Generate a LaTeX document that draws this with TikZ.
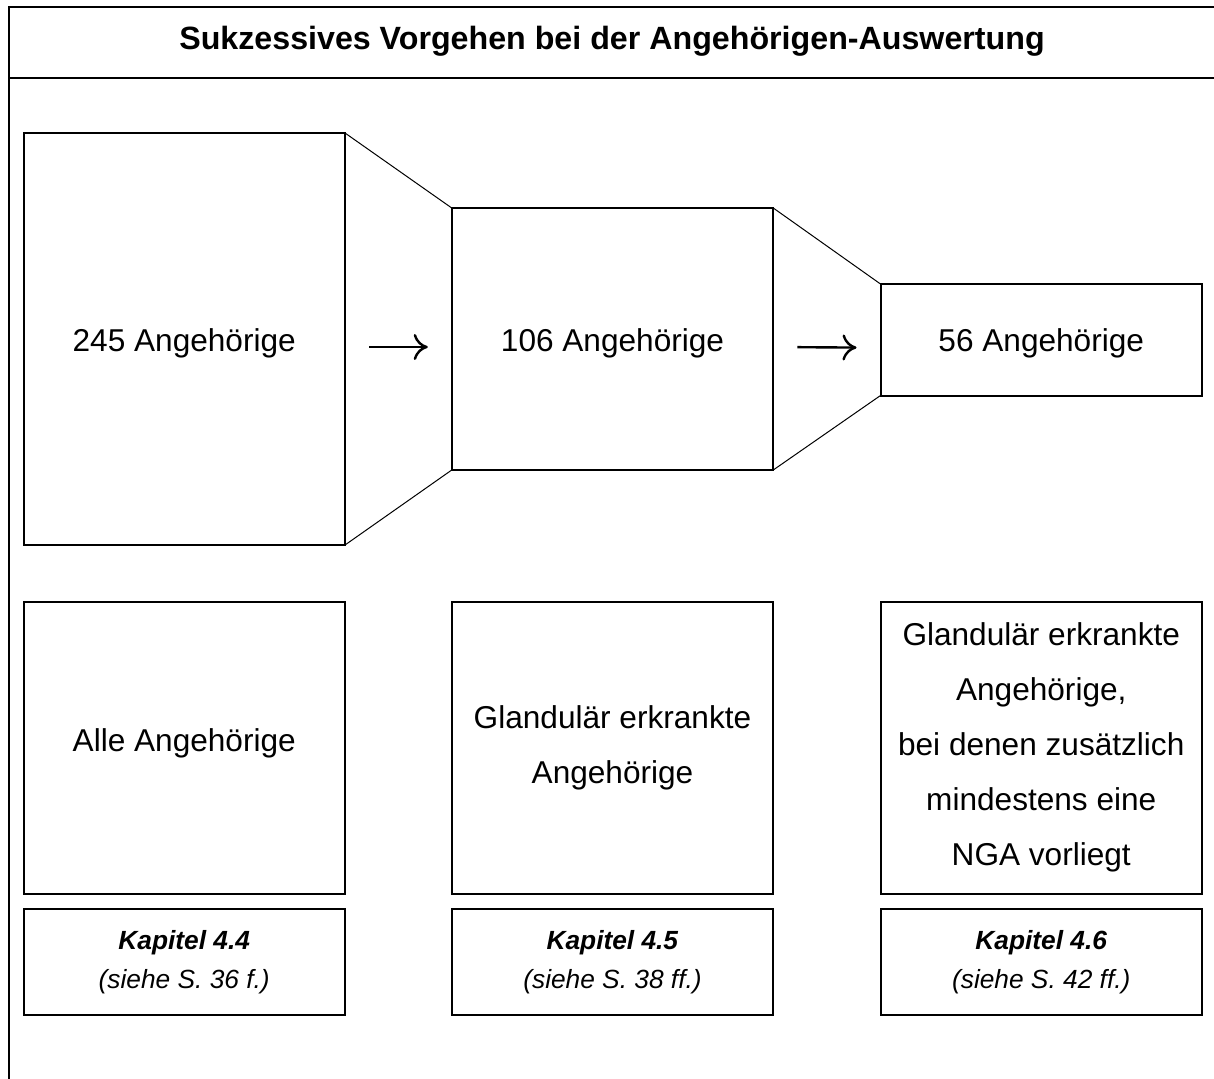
\documentclass[tikz,border=0pt]{standalone}
\usepackage{fontspec}
\setmainfont{Liberation Sans}
\usetikzlibrary{arrows.meta}
\begin{document}
\begin{tikzpicture}[x=1pt,y=-1pt,
  frameline/.style={line width=2pt},
  topbox/.style={draw,line width=2pt,rectangle,inner sep=0pt,outer sep=0pt,
     minimum width=321.5pt,align=center,font=\fontsize{31.6}{55}\selectfont},
  kapbox/.style={draw,line width=2pt,rectangle,inner sep=0pt,outer sep=0pt,
     minimum width=321.5pt,minimum height=106pt,align=center,font=\fontsize{26.3}{39}\selectfont},
  funnel/.style={line width=1pt},
  steparrow/.style={line width=2.4pt,-{Computer Modern Rightarrow[length=14pt,width=26pt]},shorten <=24pt,shorten >=24pt}
]
\useasboundingbox (0,0) rectangle (1214,1078);
% frame
\draw[frameline] (9,1080) -- (9,7) -- (1216,7);
\draw[frameline] (9,78) -- (1216,78);
\node[font=\fontsize{32.2}{38}\selectfont\bfseries] (title) at (612,41) {Sukzessives Vorgehen bei der Angehörigen-Auswertung};
% upper boxes
\node[topbox,minimum height=412pt,text height=24pt,text depth=0pt] (b1) at (184.25,339) {245 Angehörige};
\node[topbox,minimum height=262pt,text height=24pt,text depth=0pt] (b2) at (612.5,339) {106 Angehörige};
\node[topbox,minimum height=111.5pt,text height=24pt,text depth=0pt] (b3) at (1041.25,339.75) {56 Angehörige};
% funnel lines
\draw[funnel] (b1.north east) -- (b2.north west);
\draw[funnel] (b1.south east) -- (b2.south west);
\draw[funnel] (b2.north east) -- (b3.north west);
\draw[funnel] (b2.south east) -- (b3.south west);
% arrows
\draw[steparrow] ([yshift=-8pt]b1.east) -- ([yshift=-8pt]b2.west);
\draw[steparrow] ([yshift=-8pt]b2.east) -- ([yshift=-8pt]b3.west);
% lower boxes
\node[topbox,minimum height=291.5pt,text height=22pt,text depth=15.5pt] (l1) at (184.25,747.75) {Alle Angehörige};
\node[topbox,minimum height=291.5pt] (l2) at (612.5,747.75) {Glandulär erkrankte\\Angehörige};
\node[topbox,minimum height=291.5pt] (l3) at (1041.25,747.75) {Glandulär erkrankte\\Angehörige,\\bei denen zusätzlich\\mindestens eine\\NGA vorliegt};
% chapter boxes
\node[kapbox] (k1) at (184.25,962) {\textbf{\textit{Kapitel 4.4}}\\\textit{(siehe S. 36 f.)}};
\node[kapbox] (k2) at (612.5,962) {\textbf{\textit{Kapitel 4.5}}\\\textit{(siehe S. 38 ff.)}};
\node[kapbox] (k3) at (1041.25,962) {\textbf{\textit{Kapitel 4.6}}\\\textit{(siehe S. 42 ff.)}};
\end{tikzpicture}
\end{document}
